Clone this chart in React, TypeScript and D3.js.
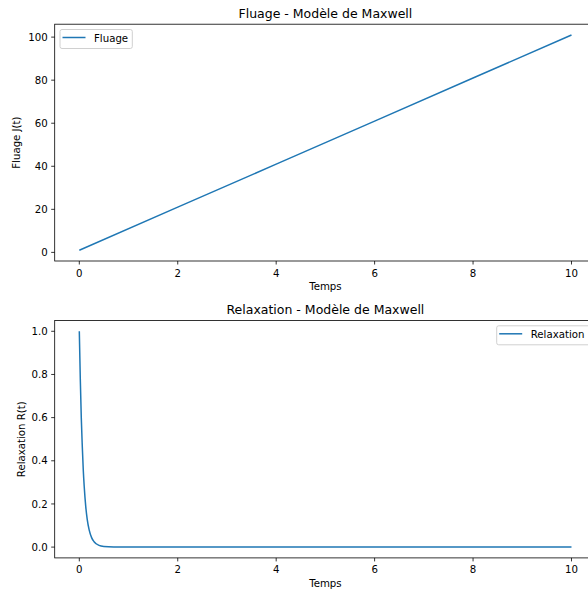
import React from "react";
import * as d3 from "d3";

const fluageT = [0, 2, 4, 6, 8, 10];
const fluageJ = [1, 21, 41, 61, 81, 101];

const relaxT = [0, 0.02, 0.04, 0.06, 0.08, 0.1, 0.13, 0.16, 0.2, 0.25, 0.3, 0.4, 0.5, 0.7, 1, 2, 4, 6, 8, 10];
const relaxR = [1.0, 0.78, 0.6, 0.47, 0.36, 0.28, 0.19, 0.13, 0.08, 0.044, 0.025, 0.008, 0.003, 0.0005, 0, 0, 0, 0, 0, 0];

const xTicks = [0, 2, 4, 6, 8, 10];
const fluageTicks = [0, 20, 40, 60, 80, 100];
const relaxTicks = [0, 0.2, 0.4, 0.6, 0.8, 1.0];

const BLUE = "#1f77b4";
const FONT = "DejaVu Sans, sans-serif";
const FS = 10.2;
const TFS = 12.5;

type PanelProps = {
  top: number;
  bottom: number;
  title: string;
  ylabel: string;
  ylabelX: number;
  xs: number[];
  ys: number[];
  yDomain: [number, number];
  yTicks: number[];
  yFmt: (v: number) => string;
  legend: string;
  legendPos: "left" | "right";
  curve: d3.CurveFactory;
};

const LEFT = 54.7;
const RIGHT = 596.1;

function Panel(p: PanelProps) {
  const x = d3.scaleLinear().domain([-0.5, 10.5]).range([LEFT, RIGHT]);
  const y = d3.scaleLinear().domain(p.yDomain).range([p.bottom, p.top]);
  const pts = p.xs.map((t, i) => [t, p.ys[i]] as [number, number]);
  const line = d3
    .line<[number, number]>()
    .x((d) => x(d[0]))
    .y((d) => y(d[1]))
    .curve(p.curve);
  const cx = (LEFT + RIGHT) / 2;
  const cy = (p.top + p.bottom) / 2;
  const legendText = p.legend;
  const lw = 34 + legendText.length * 5.55 + 5;
  const lx = p.legendPos === "left" ? 60 : 496.7;
  const ly = p.top + 5.3;
  return (
    <g>
      <text x={cx} y={p.top - 6.5} textAnchor="middle" fontSize={TFS} fontFamily={FONT} fill="#000">
        {p.title}
      </text>
      <path d={line(pts) || ""} fill="none" stroke={BLUE} strokeWidth={1.5} />
      <rect
        x={LEFT}
        y={p.top}
        width={RIGHT - LEFT}
        height={p.bottom - p.top}
        fill="none"
        stroke="#000"
        strokeWidth={0.8}
      />
      {xTicks.map((t) => (
        <g key={"x" + t}>
          <line x1={x(t)} x2={x(t)} y1={p.bottom} y2={p.bottom + 3.5} stroke="#000" strokeWidth={0.8} />
          <text x={x(t)} y={p.bottom + 15.5} textAnchor="middle" fontSize={FS} fontFamily={FONT} fill="#000">
            {t}
          </text>
        </g>
      ))}
      {p.yTicks.map((t) => (
        <g key={"y" + t}>
          <line x1={LEFT - 3.5} x2={LEFT} y1={y(t)} y2={y(t)} stroke="#000" strokeWidth={0.8} />
          <text x={LEFT - 7} y={y(t) + 3.6} textAnchor="end" fontSize={FS} fontFamily={FONT} fill="#000">
            {p.yFmt(t)}
          </text>
        </g>
      ))}
      <text x={cx} y={p.bottom + 29} textAnchor="middle" fontSize={FS} fontFamily={FONT} fill="#000">
        Temps
      </text>
      <text
        transform={`translate(${p.ylabelX},${cy}) rotate(-90)`}
        textAnchor="middle"
        fontSize={FS}
        fontFamily={FONT}
        fill="#000"
      >
        {p.ylabel}
      </text>
      <g>
        <rect
          x={lx}
          y={ly}
          width={lw}
          height={19}
          rx={2}
          fill="#fff"
          fillOpacity={0.8}
          stroke="#d0d0d0"
          strokeWidth={1}
        />
        <line x1={lx + 2.5} x2={lx + 25.5} y1={ly + 8} y2={ly + 8} stroke={BLUE} strokeWidth={1.5} />
        <text x={lx + 34} y={ly + 12.3} fontSize={FS} fontFamily={FONT} fill="#000">
          {legendText}
        </text>
      </g>
    </g>
  );
}

export default function App() {
  return (
    <div style={{ position: "absolute", left: 0, top: 0 }}>
      <svg width={588} height={592} style={{ display: "block", background: "#fff" }}>
        <Panel
          top={24.2}
          bottom={261}
          title="Fluage - Modèle de Maxwell"
          ylabel="Fluage J(t)"
          ylabelX={20}
          xs={fluageT}
          ys={fluageJ}
          yDomain={[-4, 106]}
          yTicks={fluageTicks}
          yFmt={(v) => String(v)}
          legend="Fluage"
          legendPos="left"
          curve={d3.curveLinear}
        />
        <Panel
          top={320.5}
          bottom={557.9}
          title="Relaxation - Modèle de Maxwell"
          ylabel="Relaxation R(t)"
          ylabelX={25}
          xs={relaxT}
          ys={relaxR}
          yDomain={[-0.05, 1.05]}
          yTicks={relaxTicks}
          yFmt={(v) => v.toFixed(1)}
          legend="Relaxation"
          legendPos="right"
          curve={d3.curveMonotoneX}
        />
      </svg>
    </div>
  );
}
